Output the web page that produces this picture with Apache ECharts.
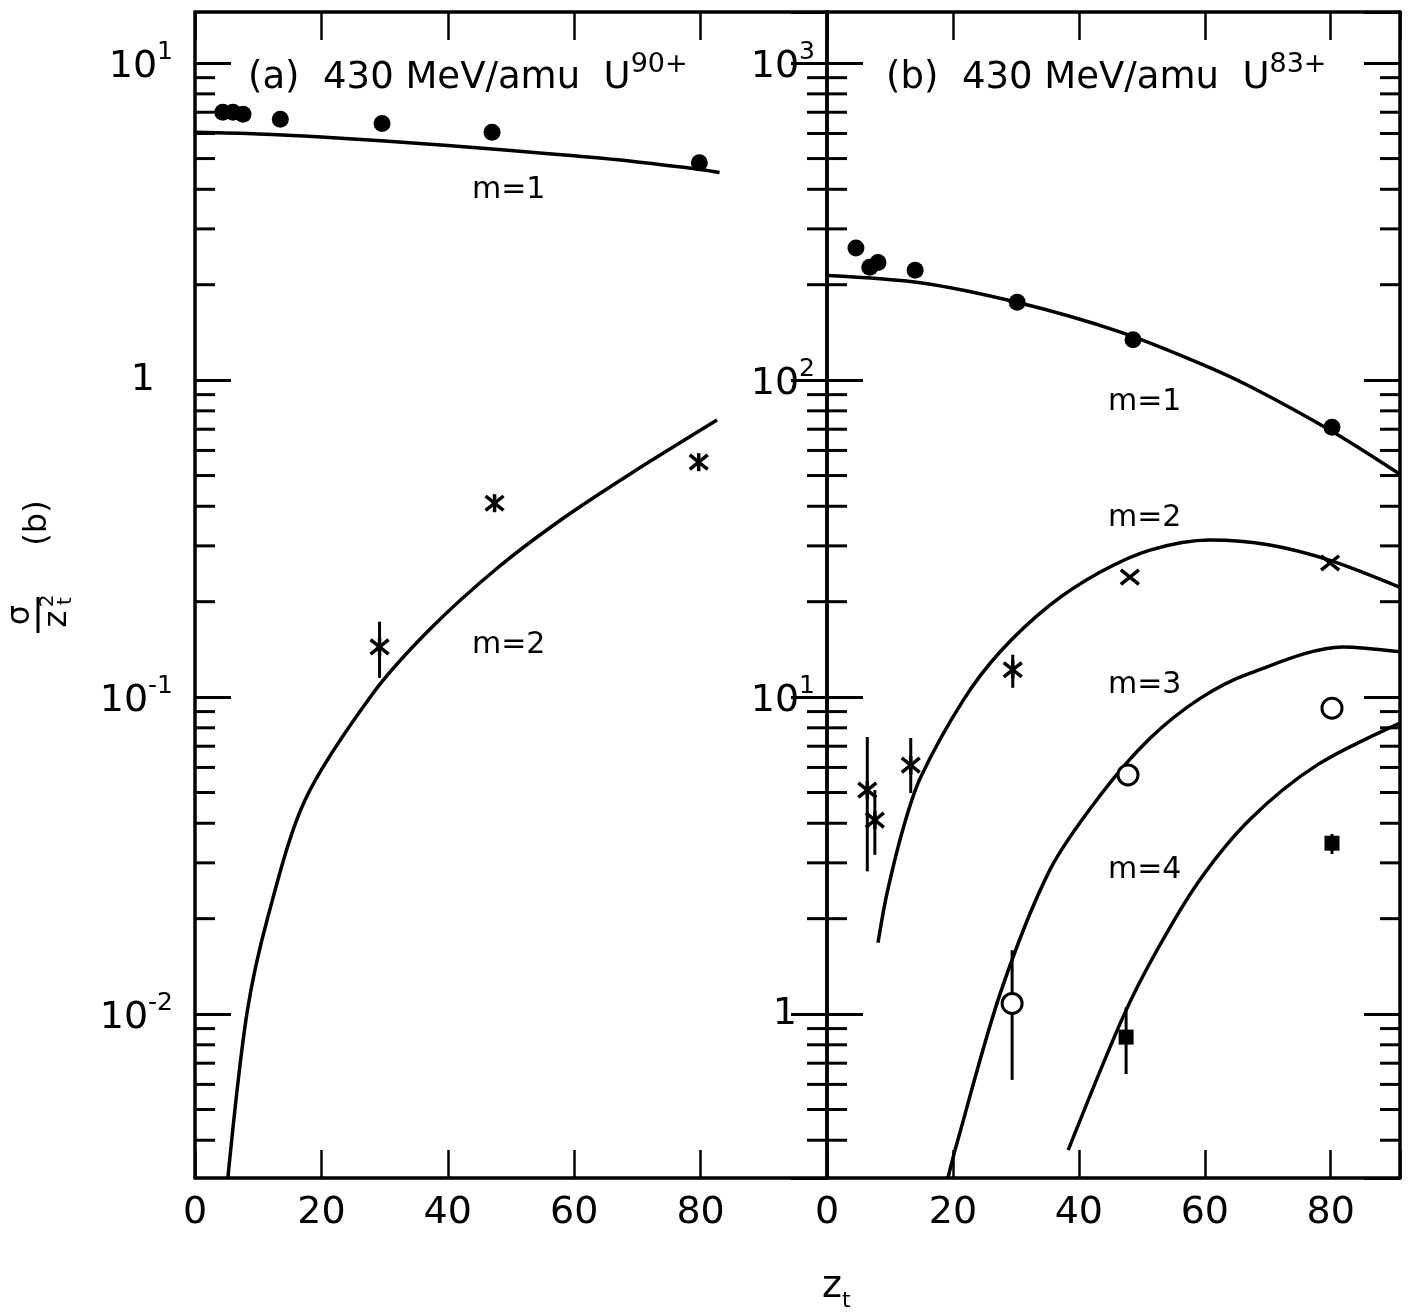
<!DOCTYPE html>
<html>
<head>
<meta charset="utf-8">
<script src="https://cdn.jsdelivr.net/npm/echarts@6/dist/echarts.min.js"></script>
<style>
  html, body { margin: 0; padding: 0; background: #fff; }
  #chart { width: 1422px; height: 1312px; }
</style>
</head>
<body>
<div id="chart"></div>
<script>
const FONT = 'DejaVu Sans'
const INK = '#000'

// x tick labels
const xTicks = [0, 20, 40, 60, 80]

// (a) 430 MeV/amu U90+ : m=1 data (filled circles)
const aM1Z = [4.4, 6.0, 7.6, 13.5, 29.6, 47.0, 79.8]
const aM1Y = [7.0, 7.0, 6.9, 6.65, 6.45, 6.05, 4.85]
// (a) m=1 theory curve
const aM1CurveZ = [0, 10, 20, 30, 40, 50, 60, 70, 80, 83]
const aM1CurveY = [6.05, 5.98, 5.85, 5.68, 5.5, 5.3, 5.1, 4.88, 4.62, 4.52]
// (a) m=2 data (crosses), with one error bar
const aM2Z = [29.2, 47.4, 79.7]
const aM2Y = [0.144, 0.409, 0.551]
const aM2Lo = [0.115, null, null]
const aM2Hi = [0.173, null, null]
// (a) m=2 theory curve
const aM2CurveZ = [5.2, 8.2, 11.6, 17.4, 28.2, 37.2, 47.8, 58.2, 68.8, 82.6]
const aM2CurveY = [0.00304, 0.01, 0.0205, 0.0473, 0.103, 0.164, 0.255, 0.366, 0.505, 0.748]

// (b) 430 MeV/amu U83+ : m=1 data
const bM1Z = [4.6, 6.8, 8.1, 14.0, 30.2, 48.6, 80.2]
const bM1Y = [261, 227, 235, 222, 176, 134, 71]
const bM1CurveZ = [0, 14.8, 30.2, 46.5, 59.2, 67.2, 79.9, 91]
const bM1CurveY = [214, 203, 176, 142, 113, 95.5, 69.5, 50.5]
// (b) m=2 data (crosses)
const bM2Z = [6.4, 7.6, 13.3, 29.5, 48.1, 79.9]
const bM2Y = [5.09, 4.09, 6.1, 12.2, 23.9, 26.5]
const bM2Lo = [2.82, 3.18, 4.98, 10.7, null, null]
const bM2Hi = [7.48, 5.09, 7.43, 13.6, null, null]
const bM2Kind = [1, 1, 1, 1, 0, 0] // 1 = asterisk, 0 = plain x
const bM2CurveZ = [8.1, 9.5, 12.1, 14.8, 21.6, 27.5, 35.4, 43.4, 51.3, 60.8, 70.3, 79.9, 91]
const bM2CurveY = [1.68, 2.39, 3.86, 5.55, 9.75, 13.9, 19.5, 24.8, 29.1, 31.3, 30.2, 27.0, 22.2]
// (b) m=3 data (open circles)
const bM3Z = [29.4, 47.8, 80.2]
const bM3Y = [1.08, 5.68, 9.23]
const bM3Lo = [0.62, null, null]
const bM3Hi = [1.59, null, null]
const bM3CurveZ = [19.2, 20.6, 27.5, 35.4, 43.4, 51.3, 59.2, 67.2, 81.9, 91]
const bM3CurveY = [0.304, 0.389, 1.16, 2.85, 4.9, 7.41, 9.89, 11.9, 14.4, 13.9]
// (b) m=4 data (filled squares)
const bM4Z = [47.5, 80.2]
const bM4Y = [0.846, 3.46]
const bM4Lo = [0.647, 3.2]
const bM4Hi = [1.05, 3.7]
const bM4CurveZ = [38.3, 47.0, 52.4, 59.2, 67.2, 77.8, 91]
const bM4CurveY = [0.372, 0.978, 1.59, 2.65, 4.12, 6.1, 8.28]

// axis ranges
const A_X_MAX = 100
const B_X_MAX = 91
const A_Y = [0.00304, 14.5]
const B_Y = [0.304, 1450]

const zip = (xs, ys) => xs.map((x, i) => [x, ys[i]])

function powLabel(v) {
  const l = Math.log10(v)
  const e = Math.round(l)
  if (Math.abs(l - e) > 1e-6) return ''
  if (e === 0) return '{one|1}'
  return '{b|10}{sup|' + e + '}'
}

const labelRich = {
  b: { fontSize: 38, fontFamily: FONT, color: INK, lineHeight: 46, verticalAlign: 'bottom' },
  sup: { fontSize: 25, fontFamily: FONT, color: INK, lineHeight: 16, verticalAlign: 'top' },
  one: { fontSize: 38, fontFamily: FONT, color: INK, lineHeight: 46, padding: [0, 18, 0, 0] }
}

function minorValues(range) {
  const out = []
  for (let k = Math.floor(Math.log10(range[0])); k <= Math.ceil(Math.log10(range[1])); k++) {
    for (let m = 2; m <= 9; m++) {
      const v = m * Math.pow(10, k)
      if (v > range[0] && v < range[1]) out.push(v)
    }
  }
  return out
}

function xAxisOf(grid, max, top) {
  return {
    type: 'value', gridIndex: grid, position: top ? 'top' : 'bottom',
    min: 0, max: max, interval: 20,
    axisLine: { show: true, onZero: false, lineStyle: { color: INK, width: 3.5 } },
    axisTick: { show: true, inside: true, length: 28, lineStyle: { color: INK, width: 2.5 } },
    axisLabel: {
      show: !top, margin: 16, fontSize: 38, fontFamily: FONT, color: INK,
      formatter: v => (xTicks.indexOf(v) >= 0 ? String(v) : '')
    },
    splitLine: { show: false }
  }
}

function yAxisOf(grid, range, right, margin) {
  return {
    type: 'log', logBase: 10, gridIndex: grid, position: right ? 'right' : 'left',
    min: range[0], max: range[1],
    axisLine: { show: true, onZero: false, lineStyle: { color: INK, width: 3.5 } },
    axisTick: { show: true, inside: true, length: 36, lineStyle: { color: INK, width: 3 } },
    axisLabel: {
      show: !right, margin: margin, formatter: powLabel, rich: labelRich,
      showMinLabel: false, showMaxLabel: false
    },
    splitLine: { show: false }
  }
}

function curve(xi, yi, xs, ys) {
  return {
    type: 'line', xAxisIndex: xi, yAxisIndex: yi, data: zip(xs, ys),
    smooth: 0.3, showSymbol: false, silent: true, z: 3,
    lineStyle: { color: INK, width: 3.5 }
  }
}

function minorTicks(xi, yi, xMax, range) {
  return {
    type: 'custom', xAxisIndex: xi, yAxisIndex: yi, silent: true, z: 4,
    data: minorValues(range).map(v => [0, v]),
    encode: { x: 0, y: 1 },
    renderItem: (params, api) => {
      const v = api.value(1)
      const a = api.coord([0, v])
      const b = api.coord([xMax, v])
      const st = { stroke: INK, lineWidth: 3 }
      return {
        type: 'group', children: [
          { type: 'line', shape: { x1: a[0], y1: a[1], x2: a[0] + 20, y2: a[1] }, style: st },
          { type: 'line', shape: { x1: b[0], y1: b[1], x2: b[0] - 20, y2: b[1] }, style: st }
        ]
      }
    }
  }
}

function errorBars(xi, yi, zs, lo, hi) {
  const data = []
  zs.forEach((z, i) => { if (lo[i] != null) data.push([z, lo[i], hi[i]]) })
  return {
    type: 'custom', xAxisIndex: xi, yAxisIndex: yi, silent: true, z: 4,
    data: data, encode: { x: 0, y: [1, 2] },
    renderItem: (params, api) => {
      const a = api.coord([api.value(0), api.value(1)])
      const b = api.coord([api.value(0), api.value(2)])
      return { type: 'line', shape: { x1: a[0], y1: a[1], x2: b[0], y2: b[1] }, style: { stroke: INK, lineWidth: 3 } }
    }
  }
}

function crosses(xi, yi, zs, ys, kinds) {
  return {
    type: 'custom', xAxisIndex: xi, yAxisIndex: yi, silent: true, z: 5,
    data: zs.map((z, i) => [z, ys[i], kinds[i]]), encode: { x: 0, y: 1 },
    renderItem: (params, api) => {
      const p = api.coord([api.value(0), api.value(1)])
      const s = 9
      const st = { stroke: INK, lineWidth: 3.5 }
      const ch = [
        { type: 'line', shape: { x1: p[0] - s, y1: p[1] - s * 0.8, x2: p[0] + s, y2: p[1] + s * 0.8 }, style: st },
        { type: 'line', shape: { x1: p[0] - s, y1: p[1] + s * 0.8, x2: p[0] + s, y2: p[1] - s * 0.8 }, style: st }
      ]
      if (api.value(2) === 1) {
        ch.push({ type: 'line', shape: { x1: p[0], y1: p[1] - s, x2: p[0], y2: p[1] + s }, style: st })
      }
      return { type: 'group', children: ch }
    }
  }
}

function dots(xi, yi, zs, ys, symbol, size, open) {
  return {
    type: 'scatter', xAxisIndex: xi, yAxisIndex: yi, data: zip(zs, ys),
    symbol: symbol, symbolSize: size, silent: true, z: 6,
    itemStyle: open
      ? { color: '#fff', borderColor: INK, borderWidth: 3, opacity: 1 }
      : { color: INK, opacity: 1 }
  }
}

const txt = (x, y, text, size, extra) => ({
  type: 'text', x: x, y: y, silent: true,
  style: Object.assign({ text: text, fontSize: size, fontFamily: FONT, fill: INK, verticalAlign: 'middle' }, extra || {})
})

const titleRich = {
  m: { fontSize: 37, fontFamily: FONT, fill: INK, lineHeight: 46, verticalAlign: 'bottom' },
  s: { fontSize: 27, fontFamily: FONT, fill: INK, lineHeight: 20, verticalAlign: 'top' }
}

const chart = echarts.init(document.getElementById('chart'))
chart.setOption({
  backgroundColor: '#fff',
  animation: false,
  grid: [
    { left: 195, top: 12, width: 632, height: 1166 },
    { left: 827, top: 12, width: 573, height: 1166 }
  ],
  xAxis: [
    xAxisOf(0, A_X_MAX, false), xAxisOf(0, A_X_MAX, true),
    xAxisOf(1, B_X_MAX, false), xAxisOf(1, B_X_MAX, true)
  ],
  yAxis: [
    yAxisOf(0, A_Y, false, 22), yAxisOf(0, A_Y, true, 0),
    yAxisOf(1, B_Y, false, 12), yAxisOf(1, B_Y, true, 0)
  ],
  series: [
    minorTicks(0, 0, A_X_MAX, A_Y),
    minorTicks(2, 2, B_X_MAX, B_Y),
    // panel (a)
    curve(0, 0, aM1CurveZ, aM1CurveY),
    curve(0, 0, aM2CurveZ, aM2CurveY),
    dots(0, 0, aM1Z, aM1Y, 'circle', 17, false),
    errorBars(0, 0, aM2Z, aM2Lo, aM2Hi),
    crosses(0, 0, aM2Z, aM2Y, [1, 1, 1]),
    // panel (b)
    curve(2, 2, bM1CurveZ, bM1CurveY),
    curve(2, 2, bM2CurveZ, bM2CurveY),
    curve(2, 2, bM3CurveZ, bM3CurveY),
    curve(2, 2, bM4CurveZ, bM4CurveY),
    dots(2, 2, bM1Z, bM1Y, 'circle', 17, false),
    errorBars(2, 2, bM2Z, bM2Lo, bM2Hi),
    crosses(2, 2, bM2Z, bM2Y, bM2Kind),
    errorBars(2, 2, bM3Z, bM3Lo, bM3Hi),
    dots(2, 2, bM3Z, bM3Y, 'circle', 20, true),
    errorBars(2, 2, bM4Z, bM4Lo, bM4Hi),
    dots(2, 2, bM4Z, bM4Y, 'rect', 15, false)
  ],
  graphic: [
    txt(248, 74, '{m|(a)  430 MeV/amu  U}{s|90+}', 37, { rich: titleRich }),
    txt(886, 74, '{m|(b)  430 MeV/amu  U}{s|83+}', 37, { rich: titleRich }),
    txt(472, 190, 'm=1', 30),
    txt(472, 645, 'm=2', 30),
    txt(1108, 402, 'm=1', 30),
    txt(1108, 518, 'm=2', 30),
    txt(1108, 685, 'm=3', 30),
    txt(1108, 870, 'm=4', 30),
    txt(822, 1290, '{m|z}{t|t}', 38, {
      rich: {
        m: { fontSize: 38, fontFamily: FONT, fill: INK, lineHeight: 44, verticalAlign: 'top' },
        t: { fontSize: 22, fontFamily: FONT, fill: INK, lineHeight: 22, verticalAlign: 'bottom' }
      }
    }),
    {
      type: 'group', x: 38, y: 615, rotation: Math.PI / 2, silent: true,
      children: [
        txt(0, -17, 'σ', 32, { align: 'center' }),
        { type: 'line', shape: { x1: -18, y1: 0, x2: 18, y2: 0 }, style: { stroke: INK, lineWidth: 3 } },
        txt(-4, 20, 'z', 32, { align: 'center' }),
        txt(14, 10, '2', 20, { align: 'center' }),
        txt(14, 28, 't', 20, { align: 'center' }),
        txt(92, 0, '(b)', 32, { align: 'center' })
      ]
    }
  ]
})
</script>
</body>
</html>
